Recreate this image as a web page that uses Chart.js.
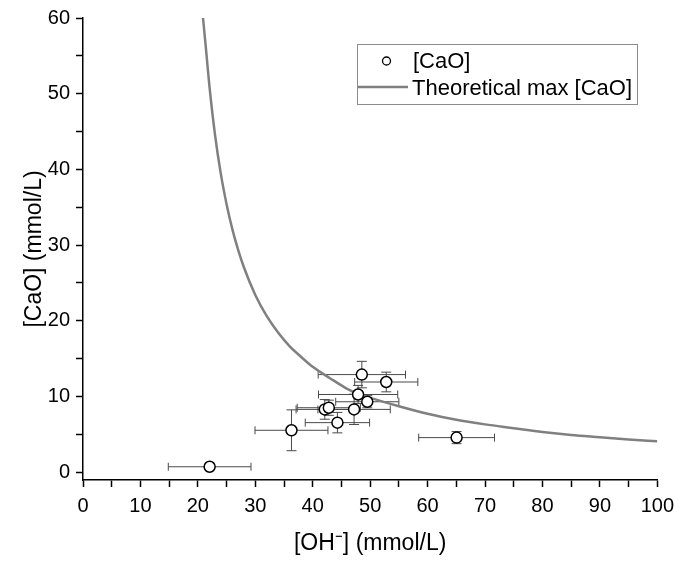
<!DOCTYPE html>
<html>
<head>
<meta charset="utf-8">
<script src="https://cdn.jsdelivr.net/npm/chart.js@4.4.0/dist/chart.umd.min.js"></script>
<style>
  html, body { margin: 0; padding: 0; background: #fff; }
  #wrap { width: 681px; height: 564px; }
</style>
</head>
<body>
<div id="wrap"><canvas id="caoChart" width="681" height="564"></canvas></div>
<script>
// Measured points: [OH-] and [CaO] with their error bars (mmol/L)
const ohX   = [22.05, 36.3, 42.1, 42.8, 44.3, 47.2, 47.9, 49.5, 48.55, 52.8, 65.05];
const ohErr = [7.2, 6.35, 5.0, 5.5, 5.6, 6.3, 6.9, 5.5, 7.6, 5.5, 6.6];
const caoY   = [0.7, 5.52, 8.28, 8.5, 6.53, 8.28, 10.25, 9.29, 12.88, 11.9, 4.55];
const caoErr = [0.3, 2.7, 1.3, 1.0, 1.35, 2.0, 1.2, 0.8, 1.75, 1.3, 0.8];

// Theoretical max [CaO] curve
const curveX = [20.9, 21.5, 22, 23, 24, 25, 26, 27, 28, 30, 32, 34, 36, 38, 40, 43, 46, 48, 50, 55, 60, 65, 70, 75, 80, 85, 90, 95, 100];
const curveY = [60.0, 55.2, 51.1, 44.5, 39.4, 35.4, 32.1, 29.4, 27.1, 23.4, 20.6, 18.4, 16.6, 15.2, 13.9, 12.4, 11.0, 10.3, 9.8, 8.7, 7.7, 6.9, 6.3, 5.8, 5.3, 4.9, 4.6, 4.3, 4.07];

const seriesNames = ["[CaO]", "Theoretical max [CaO]"];
const xTitle = "[OH\u207B] (mmol/L)";
const yTitle = "[CaO] (mmol/L)";

const FONT = "'Liberation Sans', Arial, sans-serif";

const pointData = ohX.map((x, i) => ({ x: x, y: caoY[i] }));
const curveData = curveX.map((x, i) => ({ x: x, y: curveY[i] }));

// error bars drawn under the datasets, through the chart scales
const errorBars = {
    id: "errorBars",
    beforeDatasetsDraw(chart) {
        const { ctx, scales: { x, y } } = chart;
        const cap = 4;
        ctx.save();
        ctx.strokeStyle = "#4a4a4a";
        ctx.lineWidth = 1;
        ohX.forEach((v, i) => {
            const px = x.getPixelForValue(v);
            const py = y.getPixelForValue(caoY[i]);
            const x1 = x.getPixelForValue(v - ohErr[i]);
            const x2 = x.getPixelForValue(v + ohErr[i]);
            const y1 = y.getPixelForValue(caoY[i] - caoErr[i]);
            const y2 = y.getPixelForValue(caoY[i] + caoErr[i]);
            ctx.beginPath();
            ctx.moveTo(x1, py); ctx.lineTo(x2, py);
            ctx.moveTo(x1, py - cap); ctx.lineTo(x1, py + cap);
            ctx.moveTo(x2, py - cap); ctx.lineTo(x2, py + cap);
            ctx.moveTo(px, y1); ctx.lineTo(px, y2);
            ctx.moveTo(px - cap - 1, y1); ctx.lineTo(px + cap + 1, y1);
            ctx.moveTo(px - cap - 1, y2); ctx.lineTo(px + cap + 1, y2);
            ctx.stroke();
        });
        ctx.restore();
    }
};

// boxed legend inside the plot, top right
const boxLegend = {
    id: "boxLegend",
    afterDraw(chart) {
        const ctx = chart.ctx;
        const ds = chart.data.datasets;
        ctx.save();
        ctx.strokeStyle = "#8c8c8c";
        ctx.lineWidth = 1;
        ctx.strokeRect(357.5, 44.5, 280, 60);

        ctx.beginPath();
        ctx.arc(386.5, 61, 4, 0, Math.PI * 2);
        ctx.fillStyle = "#fff";
        ctx.fill();
        ctx.strokeStyle = "#000";
        ctx.lineWidth = 1.3;
        ctx.stroke();

        ctx.beginPath();
        ctx.moveTo(358, 87);
        ctx.lineTo(408, 87);
        ctx.strokeStyle = ds[1].borderColor;
        ctx.lineWidth = ds[1].borderWidth;
        ctx.stroke();

        ctx.fillStyle = "#000";
        ctx.font = "22px " + FONT;
        ctx.textBaseline = "alphabetic";
        ctx.textAlign = "left";
        ctx.fillText(ds[0].label, 413, 68);
        ctx.fillText(ds[1].label, 412, 95);
        ctx.restore();
    }
};

const ctx = document.getElementById("caoChart").getContext("2d");
const caoChart = new Chart(ctx, {
    type: "scatter",
    data: {
        datasets: [{
            label: seriesNames[0],
            data: pointData,
            pointStyle: "circle",
            pointRadius: 5.5,
            pointHoverRadius: 5.5,
            pointBorderWidth: 1.5,
            borderColor: "#000",
            backgroundColor: "#fff",
            order: 0
        }, {
            label: seriesNames[1],
            data: curveData,
            showLine: true,
            pointRadius: 0,
            borderColor: "#808080",
            borderWidth: 2.5,
            cubicInterpolationMode: "monotone",
            order: 1
        }]
    },
    options: {
        responsive: false,
        animation: false,
        devicePixelRatio: 1,
        layout: { padding: { left: 0, right: 22, top: 15, bottom: 0 } },
        plugins: {
            legend: { display: false },
            tooltip: { enabled: false }
        },
        scales: {
            x: {
                type: "linear",
                min: 0,
                max: 100,
                afterFit: (scale) => { scale.height = 84; },
                border: { color: "#000", width: 1.5 },
                grid: { drawOnChartArea: false, drawTicks: true, tickLength: 7, tickColor: "#000", tickWidth: 1.5 },
                ticks: {
                    stepSize: 5,
                    padding: 7,
                    maxRotation: 0,
                    autoSkip: false,
                    color: "#000",
                    font: { family: FONT, size: 20 },
                    callback: (v) => (v % 10 === 0 ? String(v) : "")
                },
                title: {
                    display: true,
                    text: xTitle,
                    color: "#000",
                    font: { family: FONT, size: 23 },
                    padding: { top: 0, bottom: 7 }
                }
            },
            y: {
                type: "linear",
                min: -1.05,
                max: 60,
                afterFit: (scale) => { scale.width = 83; },
                border: { color: "#000", width: 1.5 },
                grid: { drawOnChartArea: false, drawTicks: true, tickLength: 7, tickColor: "#000", tickWidth: 1.5 },
                ticks: {
                    stepSize: 5,
                    includeBounds: false,
                    padding: 6,
                    autoSkip: false,
                    color: "#000",
                    font: { family: FONT, size: 20 },
                    callback: (v) => (v % 10 === 0 ? String(v) : "")
                },
                title: {
                    display: true,
                    text: yTitle,
                    color: "#000",
                    font: { family: FONT, size: 23 },
                    padding: { top: 21, bottom: 0 }
                }
            }
        }
    },
    plugins: [errorBars, boxLegend]
});
</script>
</body>
</html>
